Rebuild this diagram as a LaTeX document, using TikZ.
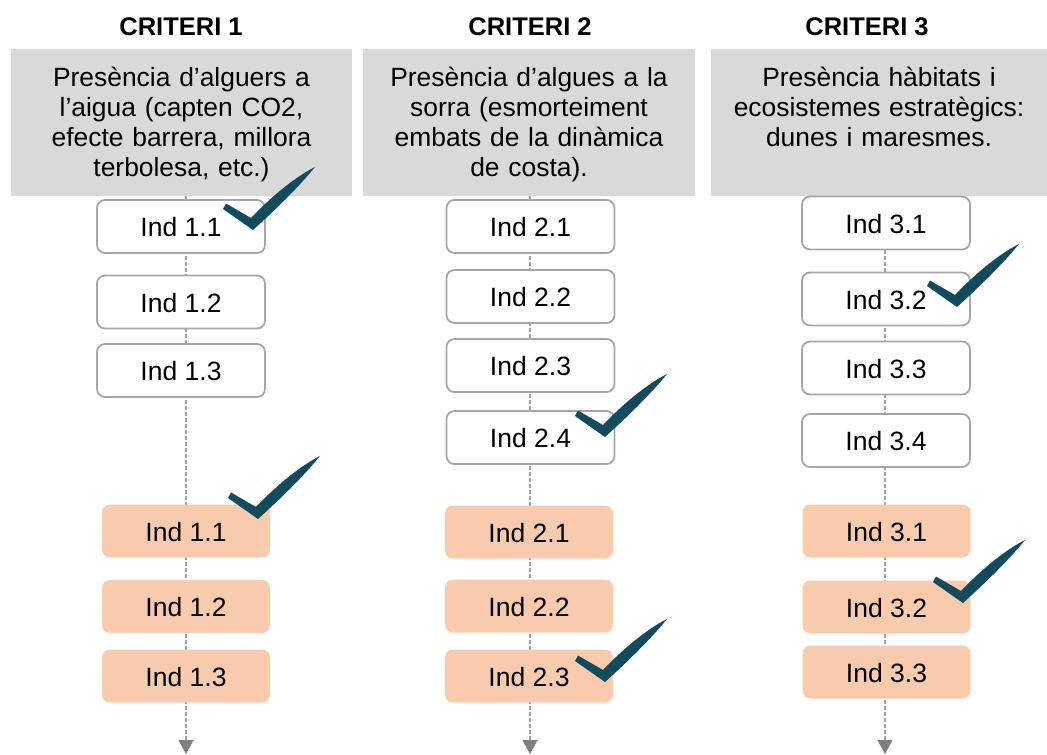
\documentclass[tikz,border=0pt]{standalone}
\usepackage{fontspec}
\setmainfont{Liberation Sans}
\usetikzlibrary{arrows.meta,backgrounds}
\definecolor{hdrgray}{HTML}{D9D9D9}
\definecolor{boxorange}{HTML}{F8CBAD}
\definecolor{bordergray}{HTML}{A6A6A6}
\definecolor{checkc}{HTML}{134B5E}
\definecolor{dashgray}{HTML}{A0A0A0}
\definecolor{arrowgray}{HTML}{7F7F7F}
\tikzset{
  hdr/.style={fill=hdrgray, inner sep=0pt, minimum height=147pt},
  htxt/.style={anchor=base, align=center, text width=334pt, inner sep=0pt,
    font=\fontsize{26.4}{30.3}\selectfont},
  ttl/.style={anchor=base, inner sep=0pt, font=\fontsize{25.5}{30}\selectfont\bfseries},
  ind/.style={rounded corners=8pt, minimum width=168pt, minimum height=53pt, inner sep=0pt,
    text height=20pt, text depth=0pt, font=\fontsize{26.5}{30}\selectfont},
  wbox/.style={ind, draw=bordergray, line width=1.8pt, fill=white},
  obox/.style={ind, fill=boxorange},
  dl/.style={draw=dashgray, line width=1.1pt, dash pattern=on 3.5pt off 2.5pt,
    -{Triangle[width=15pt,length=14pt,color=arrowgray,fill=arrowgray]}},
  chk/.pic={\fill[checkc] (-30,-21) -- (-27,-26.5) -- (-2,-12)
     .. controls (15,-30) and (40,-52) .. (62,-63)
     .. controls (45,-42) and (20,-18) .. (0,0) -- cycle;}
}
\begin{document}
\begin{tikzpicture}[x=1pt,y=-1pt]
\useasboundingbox (0,0) rectangle (1047,755);
% titles
\node[ttl] (t1) at (181,35) {CRITERI 1};
\node[ttl] (t2) at (530,35) {CRITERI 2};
\node[ttl] (t3) at (867,35) {CRITERI 3};
% header boxes
\node[hdr, minimum width=341pt] (h1) at (181.5,122.5) {};
\node[hdr, minimum width=332pt] (h2) at (529,122.5) {};
\node[hdr, minimum width=336pt] (h3) at (879,122.5) {};
\node[htxt] (x1) at (181.5,86) {Presència d’alguers a\\ l’aigua (capten CO2,\\ efecte barrera, millora\\ terbolesa, etc.)};
\node[htxt] (x2) at (529,86) {Presència d’algues a la\\ sorra (esmorteiment\\ embats de la dinàmica\\ de costa).};
\node[htxt] (x3) at (879,86) {Presència hàbitats i\\ ecosistemes estratègics:\\ dunes i maresmes.};
% end coordinates
\coordinate (e1) at (186,754);
\coordinate (e2) at (530,754);
\coordinate (e3) at (885,754);
% column 1
\node[wbox] (a11) at (181,226.5) {Ind 1.1};
\node[wbox] (a12) at (181,302) {Ind 1.2};
\node[wbox] (a13) at (181,370.5) {Ind 1.3};
\node[obox] (b11) at (186,531) {Ind 1.1};
\node[obox] (b12) at (186,606.5) {Ind 1.2};
\node[obox] (b13) at (186,676) {Ind 1.3};
% column 2
\node[wbox] (a21) at (530.5,226.5) {Ind 2.1};
\node[wbox] (a22) at (530.5,296.5) {Ind 2.2};
\node[wbox] (a23) at (530.5,365.5) {Ind 2.3};
\node[wbox] (a24) at (530.5,437.5) {Ind 2.4};
\node[obox] (b21) at (529,532) {Ind 2.1};
\node[obox] (b22) at (529,606) {Ind 2.2};
\node[obox] (b23) at (529,676) {Ind 2.3};
% column 3
\node[wbox] (a31) at (886,223) {Ind 3.1};
\node[wbox] (a32) at (886,299) {Ind 3.2};
\node[wbox] (a33) at (886,368) {Ind 3.3};
\node[wbox] (a34) at (886,440.5) {Ind 3.4};
\node[obox] (b31) at (886.5,531) {Ind 3.1};
\node[obox] (b32) at (886.5,607) {Ind 3.2};
\node[obox] (b33) at (886.5,672) {Ind 3.3};
% dashed connectors
\begin{pgfonlayer}{background}
\draw[dl] (h1.south -| e1) -- (e1);
\draw[dl] (h2.south -| e2) -- (e2);
\draw[dl] (h3.south -| e3) -- (e3);
\end{pgfonlayer}
% check marks
\pic at (253,230) {chk};
\pic at (258,519) {chk};
\pic at (605,437) {chk};
\pic at (605,682) {chk};
\pic at (957,307) {chk};
\pic at (963,603) {chk};
\end{tikzpicture}
\end{document}
